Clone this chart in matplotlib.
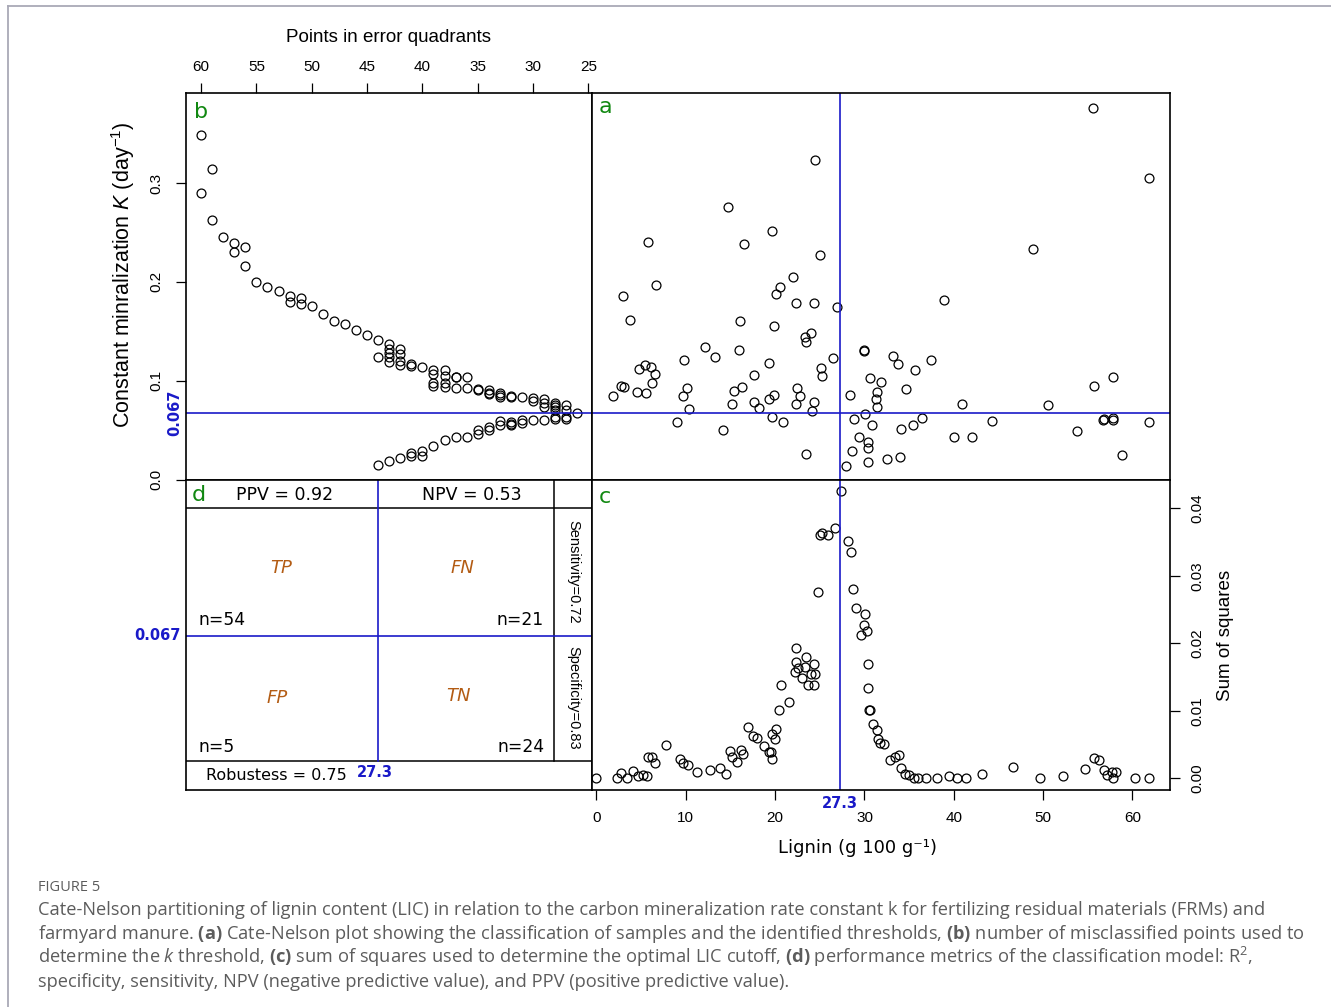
import numpy as np
import matplotlib.pyplot as plt
import matplotlib.transforms as mtransforms

plt.rcParams['font.family'] = ['Liberation Sans', 'DejaVu Sans']
plt.rcParams['mathtext.fontset'] = 'custom'
plt.rcParams['mathtext.rm'] = 'Liberation Sans'
plt.rcParams['mathtext.it'] = 'Liberation Sans:italic'
plt.rcParams['mathtext.bf'] = 'Open Sans:bold'
plt.rcParams['mathtext.sf'] = 'Open Sans:italic'
plt.rcParams['mathtext.tt'] = 'Open Sans'

# panel a: samples (lignin g/100g, mineralization constant k)
lignin = [24.5, 14.7, 5.8, 19.7, 16.5, 25.0, 6.7, 3.0, 22.0, 20.6, 20.1, 22.3, 24.3, 26.9,
          3.75, 16.1, 19.9, 24.0, 23.3, 23.4, 12.1, 13.3, 16.0, 9.8, 19.3, 26.5, 4.8, 5.4,
          6.1, 6.5, 6.2, 17.6, 25.1, 25.2, 2.7, 3.1, 4.5, 5.6, 1.9, 10.1, 9.7, 10.4, 15.4,
          16.3, 15.2, 17.6, 18.2, 19.3, 19.9, 22.4, 22.8, 22.3, 24.4, 24.1,
          9.0, 14.2, 19.6, 20.9, 23.5,
          30.0, 30.0, 33.2, 30.6, 31.9, 31.4, 31.3, 31.4, 28.4, 33.7, 37.4, 35.7, 34.6,
          40.9, 50.5, 55.7, 57.8, 38.9, 48.9, 55.6, 61.8,
          30.1, 28.8, 30.8, 29.4, 30.4, 30.4, 28.6, 30.4, 32.5, 27.9, 34.0, 36.4, 35.4,
          34.1, 44.3, 40.0, 42.0, 53.8, 56.7, 56.8, 57.8, 57.8, 61.8, 58.8]
k_rate = [0.323, 0.276, 0.240, 0.251, 0.238, 0.227, 0.197, 0.186, 0.205, 0.195, 0.188, 0.179,
          0.179, 0.175, 0.161, 0.160, 0.155, 0.148, 0.144, 0.139, 0.134, 0.124, 0.131, 0.121,
          0.118, 0.123, 0.112, 0.116, 0.114, 0.107, 0.098, 0.106, 0.113, 0.105, 0.095, 0.094,
          0.089, 0.088, 0.084, 0.093, 0.084, 0.071, 0.090, 0.094, 0.076, 0.078, 0.072, 0.081,
          0.085, 0.093, 0.084, 0.076, 0.078, 0.069,
          0.058, 0.050, 0.063, 0.058, 0.026,
          0.130, 0.131, 0.125, 0.103, 0.099, 0.089, 0.081, 0.073, 0.085, 0.117, 0.121, 0.111,
          0.092, 0.076, 0.075, 0.095, 0.104, 0.182, 0.233, 0.376, 0.305,
          0.066, 0.061, 0.055, 0.043, 0.038, 0.032, 0.029, 0.018, 0.021, 0.014, 0.023, 0.062,
          0.055, 0.051, 0.059, 0.043, 0.043, 0.049, 0.060, 0.061, 0.062, 0.060, 0.058, 0.025]

# panel b: points in error quadrants for each candidate k threshold
err_points = [60, 59, 60, 59, 58, 57, 57, 56, 56, 55, 54, 53, 52, 52, 51, 51, 50, 49, 48, 47,
              46, 45, 44, 44, 43, 43, 43, 43, 43, 42, 42, 42, 42, 41, 41, 40, 39, 39, 39, 39,
              38, 38, 38, 38, 37, 37, 37, 36, 36, 35, 35, 34, 34, 34, 33, 33, 33, 32, 32, 31,
              30, 30, 29, 29, 29, 28, 28, 28, 28, 27, 27, 26,
              44, 43, 42, 41, 41, 40, 40, 39, 38, 37, 36, 35, 35, 34, 34, 33, 33, 32, 32, 32,
              31, 31, 30, 29, 28, 28, 27, 27]
k_candidate = [0.349, 0.314, 0.290, 0.263, 0.245, 0.239, 0.230, 0.235, 0.216, 0.200, 0.195,
               0.191, 0.186, 0.180, 0.184, 0.178, 0.176, 0.167, 0.160, 0.157, 0.151, 0.146,
               0.141, 0.124, 0.137, 0.132, 0.128, 0.124, 0.119, 0.132, 0.127, 0.120, 0.116,
               0.117, 0.115, 0.114, 0.111, 0.107, 0.098, 0.095, 0.111, 0.105, 0.098, 0.094,
               0.104, 0.1035, 0.093, 0.104, 0.093, 0.092, 0.091, 0.091, 0.088, 0.087, 0.088,
               0.085, 0.083, 0.084, 0.083, 0.083, 0.082, 0.079, 0.081, 0.077, 0.073, 0.077,
               0.075, 0.073, 0.070, 0.075, 0.070, 0.067,
               0.015, 0.019, 0.022, 0.024, 0.027, 0.024, 0.029, 0.034, 0.040, 0.043, 0.043,
               0.046, 0.050, 0.050, 0.053, 0.055, 0.059, 0.056, 0.058, 0.0556, 0.057, 0.060,
               0.060, 0.060, 0.061, 0.063, 0.061, 0.063]

# panel c: sum of squares for each candidate lignin cutoff
lic_candidate = [0.0, 2.3, 2.8, 3.4, 4.1, 4.7, 5.2, 5.7, 5.8, 6.2, 6.6, 7.8, 9.35, 9.7, 10.2,
                 11.2, 12.7, 13.8, 14.5, 14.9, 15.2, 15.7, 16.2, 16.4, 17.0, 17.5, 18.0, 18.8,
                 19.3, 19.5, 19.7, 19.7, 20.0, 20.1, 20.4, 20.7, 21.5, 22.3, 22.3, 22.2, 22.6,
                 23.0, 23.4, 23.3, 23.7, 24.0, 24.3, 24.4, 24.5, 24.8, 25.0, 25.2, 25.96, 26.7,
                 27.4, 28.2, 28.5, 28.7, 29.1, 29.6, 30.0, 30.1, 30.3, 30.4, 30.4, 30.5, 30.6,
                 31.0, 31.4, 31.5, 31.7, 32.2, 32.9, 33.4, 33.9, 34.1, 34.5, 35.0, 35.5, 36.0,
                 36.9, 38.1, 39.5, 40.4, 41.4, 43.2, 46.6, 49.7, 52.2, 54.7, 55.7, 56.2, 56.8,
                 57.1, 57.7, 57.8, 58.2, 60.3, 61.8]
sum_sq = [0.0, 0.0, 0.0008, 0.0001, 0.0011, 0.0004, 0.0005, 0.0003, 0.0032, 0.0031, 0.0022,
          0.0049, 0.0029, 0.0022, 0.0019, 0.0010, 0.0013, 0.0016, 0.0006, 0.0041, 0.0031,
          0.0024, 0.0042, 0.0036, 0.0076, 0.0062, 0.0060, 0.0048, 0.0039, 0.0039, 0.0028,
          0.0066, 0.0059, 0.0073, 0.0101, 0.0138, 0.0113, 0.0193, 0.0173, 0.0157, 0.0163,
          0.0149, 0.0180, 0.0165, 0.0138, 0.0155, 0.0138, 0.0170, 0.0154, 0.0276, 0.0360,
          0.0363, 0.0360, 0.0371, 0.0425, 0.0352, 0.0336, 0.0281, 0.0252, 0.0213, 0.0227,
          0.0243, 0.0219, 0.0169, 0.0134, 0.0101, 0.0101, 0.0081, 0.0071, 0.0059, 0.0053,
          0.0051, 0.0027, 0.0032, 0.0035, 0.0016, 0.0006, 0.0005, 0.0001, 0.0001, 0.0, 0.0,
          0.0004, 0.0, 0.0001, 0.0006, 0.0017, 0.0, 0.0003, 0.0014, 0.0030, 0.0027, 0.0013,
          0.0005, 0.0009, 0.0, 0.0010, 0.0, 0.0]

# thresholds and classification summary (panel d)
k_cut = 0.067
lic_cut = 27.3
quadrants = ['TP', 'FN', 'FP', 'TN']
quadrant_n = [54, 21, 5, 24]
ppv, npv = 0.92, 0.53
sensitivity, specificity = 0.72, 0.83
robustness = 0.75

blue = '#1a1ac8'
green = '#118811'
brown = '#b35c14'
W, H = 1331, 1007


def box(x0, x1, y0, y1):
    return [x0 / W, 1 - y1 / H, (x1 - x0) / W, (y1 - y0) / H]


fig = plt.figure(figsize=(W / 100, H / 100), dpi=100)

mk = dict(marker='o', ls='none', mfc='none', mec='black', ms=6.4, mew=0.9)
tk = dict(length=7, width=0.9, labelsize=11, direction='out')

ax_b = fig.add_axes(box(186, 592, 93, 480))
ax_a = fig.add_axes(box(592, 1170, 93, 480))
ax_d = fig.add_axes(box(186, 592, 480, 790))
ax_c = fig.add_axes(box(592, 1170, 480, 790))
for ax in (ax_a, ax_b, ax_c, ax_d):
    for s in ax.spines.values():
        s.set_linewidth(1.2)

# a
ax_a.plot(lignin, k_rate, **mk)
ax_a.axhline(k_cut, color=blue, lw=1.2)
ax_a.axvline(lic_cut, color=blue, lw=1.2)
ax_a.set_xlim(-0.5, 64.2)
ax_a.set_ylim(-0.0005, 0.391)
ax_a.set_xticks([])
ax_a.set_yticks([])
ax_a.text(0.012, 0.965, 'a', transform=ax_a.transAxes, color=green, fontsize=16,
          family='DejaVu Sans', va='center')

# b
ax_b.plot(err_points, k_candidate, **mk)
ax_b.axhline(k_cut, color=blue, lw=1.2)
ax_b.set_xlim(61.36, 24.68)
ax_b.set_ylim(-0.0005, 0.391)
ax_b.xaxis.tick_top()
ax_b.set_xticks(range(60, 24, -5))
ax_b.tick_params(axis='x', pad=7, **tk)
ax_b.set_yticks([0, 0.1, 0.2, 0.3], labels=['0.0', '0.1', '0.2', '0.3'], rotation=90, va='center')
ax_b.tick_params(axis='y', pad=9, **tk)
ax_b.text(0.02, 0.952, 'b', transform=ax_b.transAxes, color=green, fontsize=16,
          family='DejaVu Sans', va='center')
ax_b.text(-0.027, k_cut, f'{k_cut:.3f}', color=blue, fontsize=10.5, fontweight='bold',
          family='DejaVu Sans', rotation=90, ha='center', va='center',
          transform=mtransforms.blended_transform_factory(ax_b.transAxes, ax_b.transData))

# c
ax_c.plot(lic_candidate, sum_sq, **mk)
ax_c.axvline(lic_cut, color=blue, lw=1.2)
ax_c.set_xlim(-0.5, 64.2)
ax_c.set_ylim(-0.00173, 0.0442)
ax_c.set_xticks(range(0, 61, 10))
ax_c.tick_params(axis='x', pad=8, **tk)
ax_c.yaxis.tick_right()
ax_c.set_yticks([0, 0.01, 0.02, 0.03, 0.04],
                labels=['0.00', '0.01', '0.02', '0.03', '0.04'], rotation=90, va='center')
ax_c.tick_params(axis='y', pad=8, **tk)
ax_c.text(0.012, 0.946, 'c', transform=ax_c.transAxes, color=green, fontsize=16,
          family='DejaVu Sans', va='center')
ax_c.text(lic_cut, -0.043, f'{lic_cut}', color=blue, fontsize=10.5, fontweight='bold',
          family='DejaVu Sans', ha='center', va='center',
          transform=mtransforms.blended_transform_factory(ax_c.transData, ax_c.transAxes))

# d
ax_d.set_xlim(0, 1)
ax_d.set_ylim(0, 1)
ax_d.set_xticks([])
ax_d.set_yticks([])
ax_d.plot([0, 1], [0.911, 0.911], color='black', lw=1.1)
ax_d.plot([0, 1], [0.0935, 0.0935], color='black', lw=1.1)
ax_d.plot([0.906, 0.906], [0.0935, 1], color='black', lw=1.1)
ax_d.plot([0.472, 0.472], [0.0935, 1], color=blue, lw=1.2)
ax_d.plot([0, 1], [0.498, 0.498], color=blue, lw=1.2)
dj = dict(family='DejaVu Sans', va='center')
ax_d.text(0.013, 0.952, 'd', color=green, fontsize=16, **dj)
ax_d.text(0.243, 0.952, f'PPV = {ppv}', fontsize=12.5, ha='center', **dj)
ax_d.text(0.705, 0.952, f'NPV = {npv}', fontsize=12.5, ha='center', **dj)
q_pos = [(0.2345, 0.716), (0.680, 0.716), (0.2246, 0.297), (0.672, 0.303)]
n_pos = [(0.030, 0.548, 'left'), (0.881, 0.548, 'right'),
         (0.030, 0.140, 'left'), (0.884, 0.140, 'right')]
for name, n, (qx, qy), (nx, ny, ha) in zip(quadrants, quadrant_n, q_pos, n_pos):
    ax_d.text(qx, qy, name, color=brown, fontsize=13, style='italic', ha='center', **dj)
    ax_d.text(nx, ny, f'n={n}', fontsize=12.3, ha=ha, **dj)
ax_d.text(0.222, 0.048, f'Robustess = {robustness}', fontsize=11.5, ha='center', **dj)
ax_d.text(0.464, 0.055, f'{lic_cut}', color=blue, fontsize=10.5, fontweight='bold',
          ha='center', family='DejaVu Sans', va='center')
ax_d.text(0.954, 0.704, f'Sensitivity={sensitivity}', fontsize=10.5, rotation=270,
          ha='center', va='center')
ax_d.text(0.954, 0.296, f'Specificity={specificity}', fontsize=10.5, rotation=270,
          ha='center', va='center')
ax_d.text(-0.071, 0.498, f'{k_cut:.3f}', color=blue, fontsize=10.5, fontweight='bold',
          ha='center', va='center', family='DejaVu Sans', clip_on=False)

# axis titles
fig.text(389 / W, 1 - 37 / H, 'Points in error quadrants', fontsize=13.5, ha='center', va='center')
fig.text(123 / W, 1 - 275 / H, r'Constant minralization $K$ (day$^{-1}$)', fontsize=15.5,
         rotation=90, ha='center', va='center')
fig.text(858 / W, 1 - 848 / H, 'Lignin (g 100 g⁻¹)', fontsize=13, family='DejaVu Sans',
         ha='center', va='center')
fig.text(1225 / W, 1 - 635 / H, 'Sum of squares', fontsize=13.5, rotation=90,
         ha='center', va='center')

# frame and caption
fig.add_artist(plt.Line2D([8 / W, 1], [1 - 6 / H] * 2, transform=fig.transFigure,
                          color='#a9a9b6', lw=1.3))
fig.add_artist(plt.Line2D([8 / W] * 2, [0, 1 - 6 / H], transform=fig.transFigure,
                          color='#a9a9b6', lw=1.3))
cap = dict(family='Open Sans', color='#5c5c5c', fontsize=13.15, va='baseline', ha='left')
fig.text(38 / W, 1 - 891 / H, 'FIGURE 5', **{**cap, 'fontsize': 10.5})
lines = [
    'Cate-Nelson partitioning of lignin content (LIC) in relation to the carbon mineralization '
    'rate constant k for fertilizing residual materials (FRMs) and',
    r'farmyard manure. $\mathbf{(a)}$ Cate-Nelson plot showing the classification of samples and '
    r'the identified thresholds, $\mathbf{(b)}$ number of misclassified points used to',
    r'determine the $\mathsf{k}$ threshold, $\mathbf{(c)}$ sum of squares used to determine the '
    r'optimal LIC cutoff, $\mathbf{(d)}$ performance metrics of the classification model: R$^{\mathtt{2}}$,',
    'specificity, sensitivity, NPV (negative predictive value), and PPV (positive predictive value).',
]
for i, s in enumerate(lines):
    fig.text(38 / W, 1 - (915 + 24 * i) / H, s, **cap)

fig.savefig('out.png', dpi=100)
